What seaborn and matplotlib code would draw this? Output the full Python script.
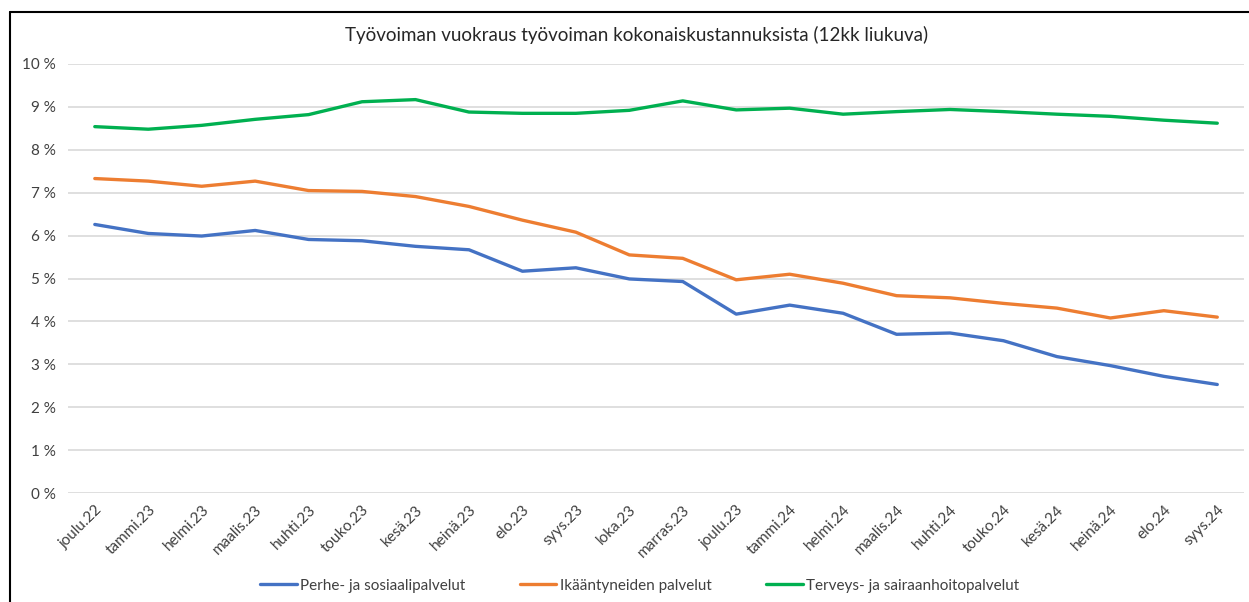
import matplotlib
matplotlib.use("Agg")
from matplotlib import pyplot as plt
from matplotlib.lines import Line2D
import seaborn as sns
import pandas as pd

months = ["joulu.22", "tammi.23", "helmi.23", "maalis.23", "huhti.23", "touko.23",
          "kesä.23", "heinä.23", "elo.23", "syys.23", "loka.23", "marras.23",
          "joulu.23", "tammi.24", "helmi.24", "maalis.24", "huhti.24", "touko.24",
          "kesä.24", "heinä.24", "elo.24", "syys.24"]

perhe = [6.26, 6.05, 5.99, 6.12, 5.91, 5.88, 5.75, 5.67, 5.17, 5.25, 4.99, 4.93,
         4.17, 4.38, 4.19, 3.70, 3.73, 3.55, 3.18, 2.97, 2.72, 2.53]
ikaantyneet = [7.33, 7.27, 7.15, 7.27, 7.05, 7.03, 6.91, 6.68, 6.36, 6.08, 5.55, 5.47,
               4.97, 5.10, 4.89, 4.60, 4.55, 4.42, 4.31, 4.08, 4.25, 4.10]
terveys = [8.54, 8.48, 8.57, 8.71, 8.82, 9.12, 9.17, 8.88, 8.85, 8.85, 8.92, 9.14,
           8.93, 8.97, 8.83, 8.89, 8.94, 8.89, 8.83, 8.78, 8.69, 8.62]

series_names = ["Perhe- ja sosiaalipalvelut", "Ikääntyneiden palvelut",
                "Terveys- ja sairaanhoitopalvelut"]
colors = ["#4472C4", "#ED7D31", "#00B050"]

df = pd.DataFrame({"kk": list(range(len(months))) * 3,
                   "arvo": perhe + ikaantyneet + terveys,
                   "sarja": [s for s in series_names for _ in months]})

sns.set_style("white")
plt.rcParams['font.family'] = ['Lato', 'DejaVu Sans']

fig = plt.figure(figsize=(12.49, 6.02), dpi=100)
ax = fig.add_axes([0.0545, 0.181, 0.9415, 0.7127])

sns.lineplot(data=df, x="kk", y="arvo", hue="sarja", palette=colors,
             linewidth=2.4, ax=ax, legend=False, zorder=3)

ax.set_xlim(-0.5, len(months) - 0.5)
ax.set_ylim(0, 10)
ax.set_yticks(range(0, 11))
ax.set_yticklabels([f"{i} %" for i in range(0, 11)], fontsize=11, color="#404040")
ax.set_xticks(range(len(months)))
ax.set_xticklabels(months, rotation=45, ha="right", rotation_mode="anchor",
                   fontsize=11, color="#404040")
ax.tick_params(axis="x", length=0, pad=7)
ax.tick_params(axis="y", length=0, pad=9)
ax.grid(axis="y", color="#d9d9d9", linewidth=1.2)
ax.set_xlabel("")
ax.set_ylabel("")
for s in ax.spines.values():
    s.set_visible(False)

fig.suptitle("Työvoiman vuokraus työvoiman kokonaiskustannuksista (12kk liukuva)",
             x=0.51, y=0.957, fontsize=13.5, color="#262626")

handles = [Line2D([0], [0], color=c, linewidth=2.4) for c in colors]
fig.legend(handles, series_names, loc="center", bbox_to_anchor=(0.512, 0.027),
           ncol=3, frameon=False, fontsize=11, handlelength=2.4, handletextpad=0.2,
           columnspacing=3.6, labelcolor="#404040")

# frame around the chart
fig.add_artist(Line2D([10 / 1249, 1.0], [1 - 12 / 602, 1 - 12 / 602],
                      transform=fig.transFigure, color="black", linewidth=1.5))
fig.add_artist(Line2D([10 / 1249, 10 / 1249], [0, 1 - 12 / 602],
                      transform=fig.transFigure, color="black", linewidth=1.5))

fig.savefig("out.png", dpi=100)
